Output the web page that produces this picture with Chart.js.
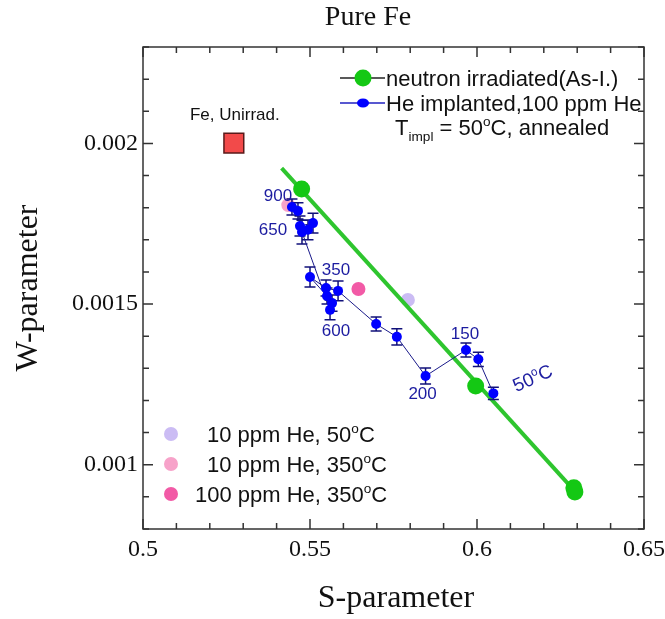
<!DOCTYPE html>
<html>
<head>
<meta charset="utf-8">
<script src="https://cdn.jsdelivr.net/npm/chart.js@4.4.1/dist/chart.umd.min.js"></script>
<style>
  html, body { margin: 0; padding: 0; background: #fff; }
  #wrap { width: 665px; height: 619px; }
</style>
</head>
<body>
<div id="wrap"><canvas id="chart" width="665" height="619"></canvas></div>
<script>
// He implanted, 100 ppm He, annealing steps (T in C)
const annealTemps = [50, 100, 150, 200, 250, 300, 350, 400, 450, 500, 550, 600, 650, 700, 750, 800, 850, 900];
const sHe = [0.6049, 0.6004, 0.5967, 0.5846, 0.5760, 0.5698, 0.5584, 0.5548, 0.5500, 0.5551, 0.5566, 0.5560,
             0.5476, 0.5494, 0.5509, 0.5470, 0.5464, 0.5446];
const wHe = [0.001222, 0.001328, 0.001357, 0.001276, 0.001398, 0.001438, 0.001541, 0.001550, 0.001584, 0.001525,
             0.001503, 0.001482, 0.001724, 0.001731, 0.001752, 0.001743, 0.001790, 0.001802];
const wHeErr = [0.000019, 0.000022, 0.000022, 0.000025, 0.000025, 0.000022, 0.000031, 0.000025, 0.000031, 0.000025,
                0.000025, 0.000031, 0.000037, 0.000031, 0.000031, 0.000031, 0.000025, 0.000025];

// neutron irradiated (As-I.) and its straight line
const sNeutron = [0.5475, 0.5996, 0.6290, 0.6293];
const wNeutron = [0.001858, 0.001245, 0.000928, 0.000915];
const sNeutronLine = [0.5415, 0.6290];
const wNeutronLine = [0.001923, 0.000921];

// single points
const sUnirr = [0.5272];
const wUnirr = [0.002001];
const otherLabels = ["10 ppm He, 50", "10 ppm He, 350", "100 ppm He, 350"];
const sOther = [0.5793, 0.5435, 0.5645];
const wOther = [0.001513, 0.001808, 0.001547];
const otherColors = ["#cbbcf4", "#f7a2c9", "#f25aa6"];

// tick labels
const xTickLabels = [0.5, 0.55, 0.6, 0.65];
const yTickLabels = [0.001, 0.0015, 0.002];

// labelled annealing temperatures
const markedTemps = [900, 650, 350, 600, 150, 200];

const SERIF = '"Liberation Serif", "Times New Roman", serif';
const SANS = '"Liberation Sans", Arial, sans-serif';
const NAVY = "#1c1ca0";

const pts = (xs, ys) => xs.map((x, i) => ({ x: x, y: ys[i] }));

// text with superscript / subscript pieces, y is the baseline
function drawParts(ctx, x, y, size, parts, align, color) {
    const fontFor = m => (m ? size * 0.62 : size) + "px " + SANS;
    const widths = parts.map(([t, m]) => { ctx.font = fontFor(m); return ctx.measureText(t).width; });
    const total = widths.reduce((a, b) => a + b, 0);
    let cx = align === "center" ? x - total / 2 : x;
    ctx.textAlign = "left";
    ctx.textBaseline = "alphabetic";
    ctx.fillStyle = color || "#111";
    parts.forEach(([t, m], i) => {
        ctx.font = fontFor(m);
        const dy = m === "sup" ? -size * 0.4 : m === "sub" ? size * 0.28 : 0;
        ctx.fillText(t, cx, y + dy);
        cx += widths[i];
    });
}

// frame with inward ticks on all sides
const framePlugin = {
    id: "frame",
    beforeDatasetsDraw(chart) {
        const { ctx, chartArea: a, scales: { x, y } } = chart;
        ctx.save();
        ctx.strokeStyle = "#333";
        ctx.lineWidth = 1.5;
        ctx.strokeRect(a.left, a.top, a.right - a.left, a.bottom - a.top);
        ctx.beginPath();
        x.ticks.forEach(t => {
            const px = x.getPixelForValue(t.value);
            const len = Math.round(t.value * 100) % 5 === 0 ? 10 : 6;
            ctx.moveTo(px, a.bottom); ctx.lineTo(px, a.bottom - len);
            ctx.moveTo(px, a.top); ctx.lineTo(px, a.top + len);
        });
        y.ticks.forEach(t => {
            const py = y.getPixelForValue(t.value);
            const len = Math.round(t.value * 10000) % 5 === 0 ? 10 : 6;
            ctx.moveTo(a.left, py); ctx.lineTo(a.left + len, py);
            ctx.moveTo(a.right, py); ctx.lineTo(a.right - len, py);
        });
        ctx.stroke();
        ctx.restore();
    },
    // error bars go under the blue markers
    beforeDatasetDraw(chart, args) {
        if (args.index !== 0) return;
        const { ctx, scales: { x, y } } = chart;
        ctx.save();
        ctx.strokeStyle = "#10107a";
        ctx.lineWidth = 1.5;
        ctx.beginPath();
        sHe.forEach((s, i) => {
            const px = x.getPixelForValue(s);
            const top = y.getPixelForValue(wHe[i] + wHeErr[i]);
            const bot = y.getPixelForValue(wHe[i] - wHeErr[i]);
            ctx.moveTo(px, top); ctx.lineTo(px, bot);
            ctx.moveTo(px - 5.5, top); ctx.lineTo(px + 5.5, top);
            ctx.moveTo(px - 5.5, bot); ctx.lineTo(px + 5.5, bot);
        });
        ctx.stroke();
        ctx.restore();
    },
    afterDraw(chart) {
        const { ctx, scales: { x, y } } = chart;
        ctx.save();

        // titles
        ctx.fillStyle = "#111";
        ctx.textAlign = "center";
        ctx.textBaseline = "middle";
        ctx.font = "28px " + SERIF;
        ctx.fillText("Pure Fe", 368, 18);
        ctx.font = "32px " + SERIF;
        ctx.fillText("S-parameter", 396, 599);
        ctx.save();
        ctx.translate(29, 288);
        ctx.rotate(-Math.PI / 2);
        ctx.fillText("W-parameter", 0, 0);
        ctx.restore();

        // unirradiated label
        ctx.font = "17px " + SANS;
        ctx.fillText("Fe, Unirrad.", x.getPixelForValue(sUnirr[0]) + 1, y.getPixelForValue(wUnirr[0]) - 28);

        // annealing temperature labels
        const offsets = { 900: [-14, -11], 650: [-29, -2], 350: [-2, -21], 600: [6, 21], 150: [-1, -16], 200: [-3, 18] };
        ctx.fillStyle = NAVY;
        ctx.font = "17px " + SANS;
        markedTemps.forEach(T => {
            const i = annealTemps.indexOf(T);
            const px = x.getPixelForValue(sHe[i]) + offsets[T][0];
            const py = y.getPixelForValue(wHe[i]) + offsets[T][1];
            ctx.fillText(String(T), px, py);
        });
        ctx.save();
        ctx.translate(x.getPixelForValue(sHe[0]) + 39, y.getPixelForValue(wHe[0]) - 16);
        ctx.rotate(-0.42);
        drawParts(ctx, 0, 7, 19, [["50", ""], ["o", "sup"], ["C", ""]], "center", NAVY);
        ctx.restore();

        // top legend
        ctx.lineWidth = 1.5;
        ctx.strokeStyle = "#222";
        ctx.beginPath(); ctx.moveTo(340, 78); ctx.lineTo(385, 78); ctx.stroke();
        ctx.fillStyle = "#14c814";
        ctx.beginPath(); ctx.arc(363, 78, 8.5, 0, Math.PI * 2); ctx.fill();
        ctx.strokeStyle = "#2020c0";
        ctx.beginPath(); ctx.moveTo(340, 103); ctx.lineTo(385, 103); ctx.stroke();
        ctx.fillStyle = "#0000ff";
        ctx.beginPath(); ctx.ellipse(363, 103, 6, 4.5, 0, 0, Math.PI * 2); ctx.fill();
        drawParts(ctx, 386, 86, 22, [["neutron irradiated(As-I.)", ""]], "left");
        drawParts(ctx, 386, 111, 22, [["He implanted,100 ppm He", ""]], "left");
        drawParts(ctx, 395, 135, 22, [["T", ""], ["impl", "sub"], [" = 50", ""], ["o", "sup"], ["C, annealed", ""]], "left");

        // lower-left legend
        const rowY = [434, 464, 494];
        const textX = [207, 207, 195];
        otherLabels.forEach((lab, i) => {
            ctx.fillStyle = otherColors[i];
            ctx.beginPath(); ctx.arc(171, rowY[i], 7, 0, Math.PI * 2); ctx.fill();
            drawParts(ctx, textX[i], rowY[i] + 8, 22, [[lab, ""], ["o", "sup"], ["C", ""]], "left");
        });

        ctx.restore();
    }
};

const otherSets = otherLabels.map((lab, i) => ({
    label: lab,
    data: [{ x: sOther[i], y: wOther[i] }],
    showLine: false,
    pointRadius: 7,
    pointBackgroundColor: otherColors[i],
    pointBorderWidth: 0,
    order: 4
}));

new Chart(document.getElementById("chart"), {
    type: "scatter",
    plugins: [framePlugin],
    data: {
        datasets: [
            {
                label: "He implanted,100 ppm He",
                data: pts(sHe, wHe),
                showLine: true,
                borderColor: "#1a1a8a",
                borderWidth: 1,
                pointRadius: 5,
                pointBackgroundColor: "#0000ff",
                pointBorderWidth: 0,
                order: 1
            },
            {
                label: "neutron irradiated(As-I.)",
                data: pts(sNeutron, wNeutron),
                showLine: false,
                pointRadius: 8.5,
                pointBackgroundColor: "#14c814",
                pointBorderWidth: 0,
                order: 2
            },
            {
                label: "fit",
                data: pts(sNeutronLine, wNeutronLine),
                showLine: true,
                borderColor: "#2ec52e",
                borderWidth: 4,
                pointRadius: 0,
                order: 3
            },
            ...otherSets,
            {
                label: "Fe, Unirrad.",
                data: pts(sUnirr, wUnirr),
                showLine: false,
                pointStyle: "rect",
                pointRadius: 14,
                pointBackgroundColor: "#f24a4a",
                pointBorderColor: "#5a1a1a",
                pointBorderWidth: 1.5,
                order: 5
            }
        ]
    },
    options: {
        responsive: false,
        animation: false,
        events: [],
        layout: { padding: { left: 0, right: 21, top: 47, bottom: 0 } },
        plugins: {
            legend: { display: false },
            tooltip: { enabled: false }
        },
        scales: {
            x: {
                type: "linear",
                min: 0.5,
                max: 0.65,
                afterFit: s => { s.height = 90; s.paddingLeft = 0; s.paddingRight = 0; },
                grid: { display: false, drawTicks: false },
                border: { display: false },
                ticks: {
                    stepSize: 0.01,
                    autoSkip: false,
                    maxRotation: 0,
                    padding: 6,
                    color: "#111",
                    font: { family: SERIF, size: 24 },
                    callback: v => {
                        const hit = xTickLabels.find(t => Math.abs(t - v) < 1e-6);
                        return hit === undefined ? "" : String(hit);
                    }
                }
            },
            y: {
                type: "linear",
                min: 0.0008,
                max: 0.0023,
                afterFit: s => { s.width = 143; s.paddingTop = 0; s.paddingBottom = 0; },
                grid: { display: false, drawTicks: false },
                border: { display: false },
                ticks: {
                    stepSize: 0.0001,
                    autoSkip: false,
                    padding: 5,
                    color: "#111",
                    font: { family: SERIF, size: 24 },
                    callback: v => {
                        const hit = yTickLabels.find(t => Math.abs(t - v) < 1e-9);
                        return hit === undefined ? "" : String(hit);
                    }
                }
            }
        }
    }
});
</script>
</body>
</html>
